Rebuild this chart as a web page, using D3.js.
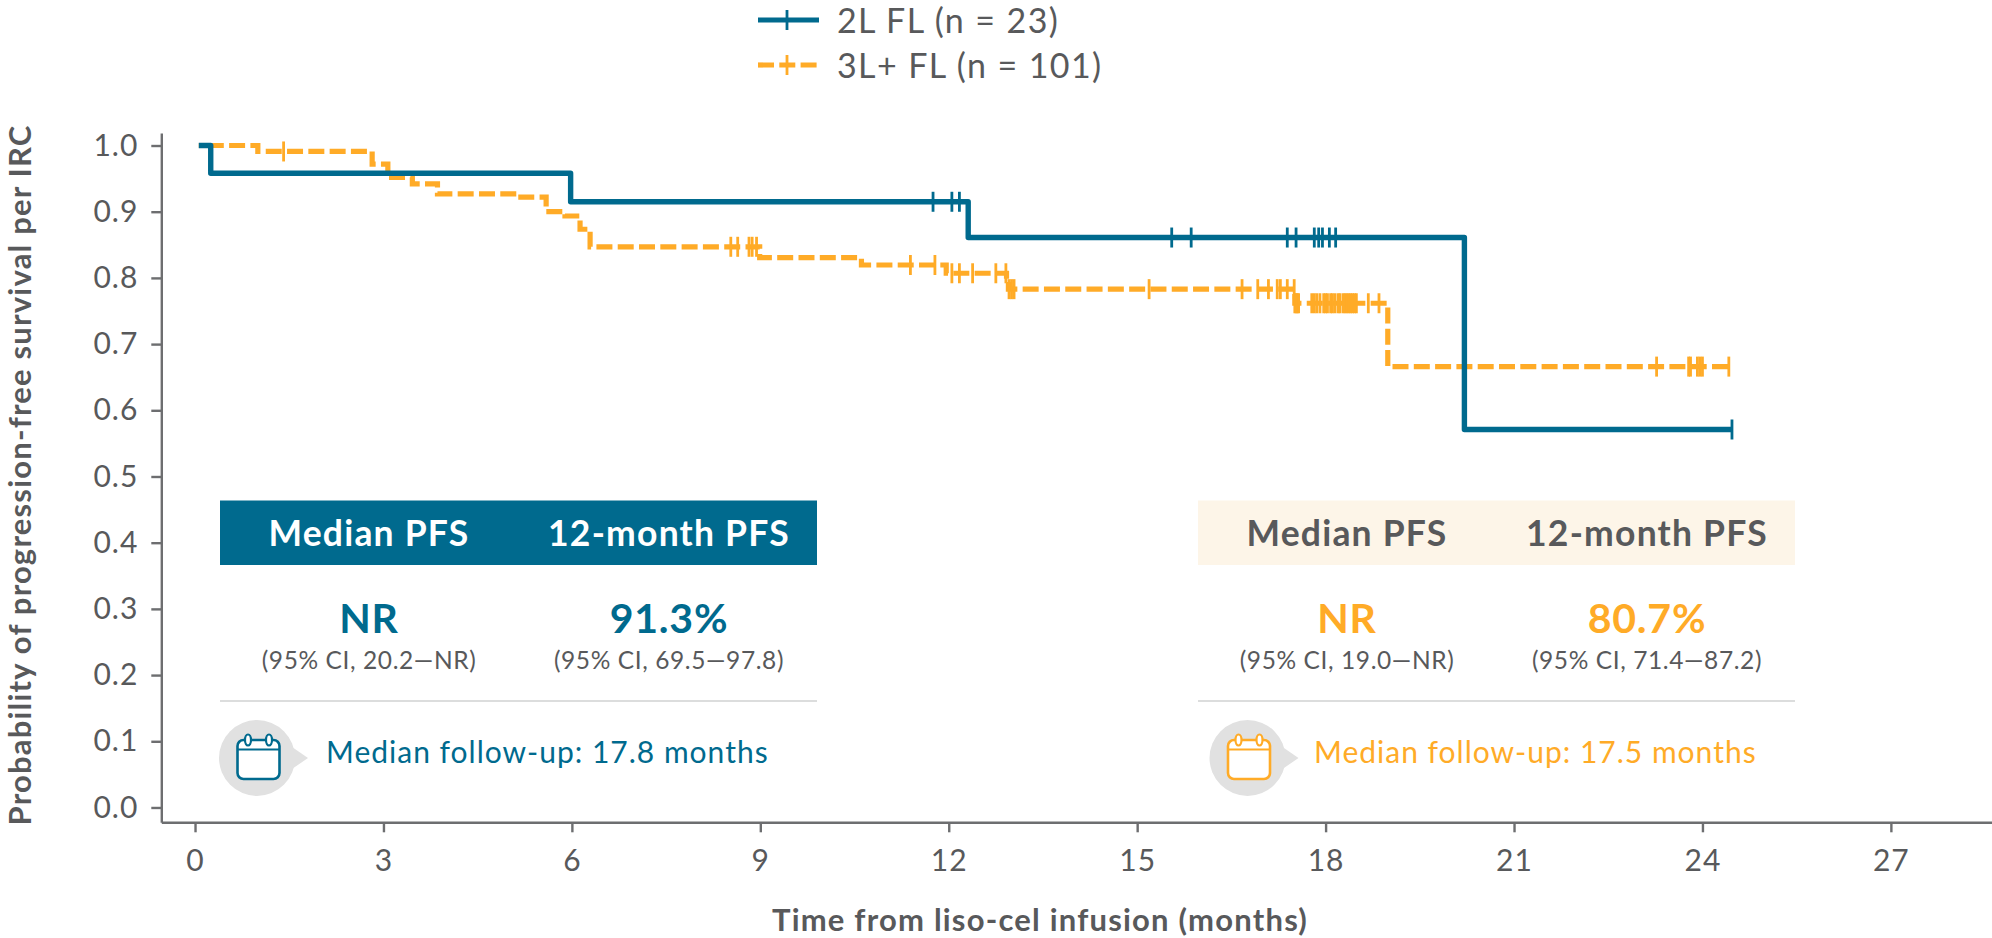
<!DOCTYPE html>
<html lang="en">
<head>
  <meta charset="utf-8">
  <title>Progression-free survival per IRC</title>
  <script src="https://d3js.org/d3.v7.min.js"></script>
  <style>
    html, body { margin: 0; padding: 0; background: #fff; overflow: hidden; }
    svg { display: block; font-family: Lato, sans-serif; }
    .axis path, .axis line { stroke: #6d6e70; stroke-width: 2.4; }
    .axis text { fill: #58595b; font-size: 30px; font-family: Lato, sans-serif; letter-spacing: 1px; }
    .title { fill: #58595b; font-size: 31px; font-weight: 700; letter-spacing: 1.2px; }
  </style>
</head>
<body>
<svg id="chart" width="1992" height="938"></svg>

<script>
  // Data
  const xTicks = [0, 3, 6, 9, 12, 15, 18, 21, 24, 27];
  const yTicks = [0, 0.1, 0.2, 0.3, 0.4, 0.5, 0.6, 0.7, 0.8, 0.9, 1.0];

  const blueTimes = [0.06, 0.25, 5.98, 12.31, 20.21, 24.47];
  const blueSurv  = [1.0, 0.958, 0.915, 0.861, 0.571, 0.571];
  const blueCensors = [11.75, 12.05, 12.17, 15.55, 15.86, 17.39, 17.53, 17.82, 17.89, 17.95, 18.06, 18.16, 24.47];

  const orangeTimes = [0.06, 1.0, 2.82, 3.07, 3.46, 3.86, 5.12, 5.59, 5.89, 6.13, 6.29, 8.99, 10.61, 11.96, 12.92, 12.95, 17.51, 18.99, 24.42];
  const orangeSurv  = [1.0, 0.991, 0.972, 0.952, 0.942, 0.927, 0.922, 0.9, 0.8935, 0.8735, 0.847, 0.8305, 0.8195, 0.807, 0.795, 0.783, 0.7617, 0.666, 0.666];
  const orangeCensors = [1.41, 8.53, 8.64, 8.82, 8.87, 8.94, 11.39, 11.78, 12.05, 12.17, 12.38, 12.75, 12.91,
    12.96, 13.0, 13.04, 15.19, 16.67, 16.92, 17.09, 17.23, 17.28, 17.39, 17.5, 17.51, 17.53, 17.55, 17.57,
    17.78, 17.82, 17.86, 17.91, 17.97, 18.0, 18.03, 18.08, 18.11, 18.15, 18.2, 18.23, 18.28, 18.31, 18.34,
    18.37, 18.4, 18.43, 18.46, 18.49, 18.68, 18.85, 23.27, 23.78, 23.81, 23.92, 23.96, 24.0, 24.42];

  const panelHeads  = ["Median PFS", "12-month PFS"];
  const blueValues  = ["NR", "91.3%"];
  const blueCIs     = ["(95% CI, 20.2—NR)", "(95% CI, 69.5—97.8)"];
  const blueFollow  = "Median follow-up: 17.8 months";
  const orangeValues = ["NR", "80.7%"];
  const orangeCIs    = ["(95% CI, 19.0—NR)", "(95% CI, 71.4—87.2)"];
  const orangeFollow = "Median follow-up: 17.5 months";

  const colorBlue = "#006a8e";
  const colorOrange = "#ffab27";
  const colorText = "#58595b";

  const svg = d3.select("#chart");

  // Scales (the axes run a little past 0 and the last tick)
  const xScale = d3.scaleLinear().domain([-0.537, 28.61]).range([161.3, 1992]);
  const yScale = d3.scaleLinear().domain([-0.0224, 1.0189]).range([822.3, 133]);

  const xAxis = d3.axisBottom(xScale).tickValues(xTicks).tickSizeInner(10).tickSizeOuter(0).tickPadding(17);
  const yAxis = d3.axisLeft(yScale).tickValues(yTicks).tickSizeInner(10).tickSizeOuter(0).tickPadding(13).tickFormat(d3.format(".1f"));

  svg.append("g").attr("class", "x axis").attr("transform", "translate(0,822.3)").call(xAxis);
  svg.append("g").attr("class", "y axis").attr("transform", "translate(161.3,0)").call(yAxis);

  // Titres des axes
  svg.append("text").attr("class", "title").attr("text-anchor", "middle")
    .attr("transform", "translate(31,475) rotate(-90)")
    .text("Probability of progression-free survival per IRC");
  svg.append("text").attr("class", "title").attr("text-anchor", "middle")
    .attr("x", 1040).attr("y", 931)
    .text("Time from liso-cel infusion (months)");

  // Survival curves
  const line = d3.line().curve(d3.curveStepAfter).x(d => xScale(d[0])).y(d => yScale(d[1]));

  function levelAt(times, surv, t) {
    const i = d3.bisectRight(times, t) - 1;
    return surv[Math.max(0, i)];
  }

  function drawCurve(times, surv, censors, color, width, dash) {
    const g = svg.append("g");
    g.append("path")
      .datum(d3.zip(times, surv))
      .attr("fill", "none")
      .attr("stroke", color)
      .attr("stroke-width", width)
      .attr("stroke-linejoin", dash ? "miter" : "round")
      .attr("stroke-dasharray", dash ? "16,5.3" : null)
      .attr("stroke-dashoffset", dash ? 12.3 : null)
      .attr("d", line);
    g.selectAll("line")
      .data(censors)
      .enter()
      .append("line")
      .attr("x1", d => xScale(d))
      .attr("x2", d => xScale(d))
      .attr("y1", d => yScale(levelAt(times, surv, d)) - 10)
      .attr("y2", d => yScale(levelAt(times, surv, d)) + 10)
      .attr("stroke", color)
      .attr("stroke-width", 2.8);
  }

  drawCurve(orangeTimes, orangeSurv, orangeCensors, colorOrange, 5.2, true);
  drawCurve(blueTimes, blueSurv, blueCensors, colorBlue, 5.4, false);

  // Legend
  const legendItems = [
    { label: "2L FL (n = 23)", color: colorBlue, dash: null, y: 20 },
    { label: "3L+ FL (n = 101)", color: colorOrange, dash: "16,5.3", y: 65 }
  ];
  legendItems.forEach(d => {
    svg.append("line").attr("x1", 758).attr("x2", 819).attr("y1", d.y).attr("y2", d.y)
      .attr("stroke", d.color).attr("stroke-width", 5.2).attr("stroke-dasharray", d.dash);
    svg.append("line").attr("x1", 787).attr("x2", 787).attr("y1", d.y - 10).attr("y2", d.y + 10)
      .attr("stroke", d.color).attr("stroke-width", 2.8);
    svg.append("text").attr("x", 837).attr("y", d.y + 13)
      .attr("fill", colorText).attr("font-size", 34).attr("letter-spacing", 1.4)
      .text(d.label);
  });

  // Result panels
  function drawPanel(left, headFill, headColor, valueColor, values, cis, follow, iconShift, textX) {
    const g = svg.append("g").attr("transform", `translate(${left},0)`);
    const cols = [149, 449];

    g.append("rect").attr("x", 0).attr("y", 500.5).attr("width", 597).attr("height", 64.5).attr("fill", headFill);
    g.selectAll(".head").data(panelHeads).enter().append("text")
      .attr("x", (d, i) => cols[i]).attr("y", 546)
      .attr("text-anchor", "middle").attr("fill", headColor)
      .attr("font-size", 35.5).attr("font-weight", 700).attr("letter-spacing", 1.2)
      .text(d => d);
    g.selectAll(".val").data(values).enter().append("text")
      .attr("x", (d, i) => cols[i]).attr("y", 633)
      .attr("text-anchor", "middle").attr("fill", valueColor)
      .attr("font-size", 41).attr("font-weight", 700).attr("letter-spacing", 0.8)
      .text(d => d);
    g.selectAll(".ci").data(cis).enter().append("text")
      .attr("x", (d, i) => cols[i]).attr("y", 669)
      .attr("text-anchor", "middle").attr("fill", colorText)
      .attr("font-size", 24.5).attr("letter-spacing", 0.6)
      .text(d => d);

    g.append("line").attr("x1", 0).attr("x2", 597).attr("y1", 701).attr("y2", 701)
      .attr("stroke", "#dcdddd").attr("stroke-width", 2);

    // Calendar badge
    const icon = g.append("g").attr("transform", `translate(${iconShift},0)`);
    icon.append("circle").attr("cx", 37).attr("cy", 758).attr("r", 38).attr("fill", "#e1e1e1");
    icon.append("path").attr("d", "M72,747L88,758L72,769Z").attr("fill", "#e1e1e1");
    icon.append("rect").attr("x", 17.5).attr("y", 740).attr("width", 42).attr("height", 39).attr("rx", 6)
      .attr("fill", "#fff").attr("stroke", valueColor).attr("stroke-width", 2.6);
    icon.append("line").attr("x1", 17.5).attr("x2", 59.5).attr("y1", 749.5).attr("y2", 749.5)
      .attr("stroke", valueColor).attr("stroke-width", 2.2);
    [28, 49].forEach(cx => {
      icon.append("ellipse").attr("cx", cx).attr("cy", 740).attr("rx", 3).attr("ry", 5.5)
        .attr("fill", "#fff").attr("stroke", valueColor).attr("stroke-width", 2.2);
    });

    g.append("text").attr("x", textX).attr("y", 763)
      .attr("fill", valueColor).attr("font-size", 30).attr("letter-spacing", 1)
      .text(follow);
  }

  drawPanel(220, colorBlue, "#fff", colorBlue, blueValues, blueCIs, blueFollow, 0, 106);
  drawPanel(1198, "#fdf5e8", colorText, colorOrange, orangeValues, orangeCIs, orangeFollow, 12.5, 116);
</script>
</body>
</html>
